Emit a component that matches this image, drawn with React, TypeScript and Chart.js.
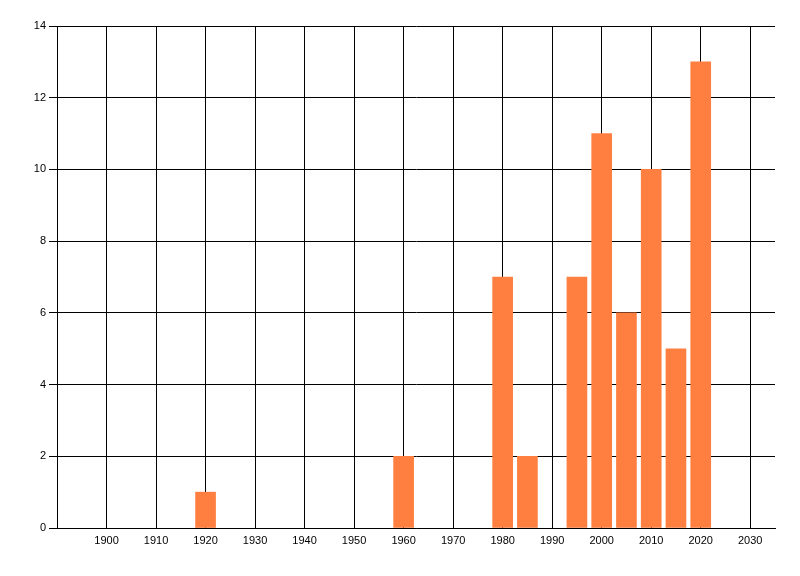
import React, { useEffect, useRef } from "react";
import { Chart, registerables } from "chart.js";

Chart.register(...registerables);

// values
const years = [1920, 1960, 1980, 1985, 1995, 2000, 2005, 2010, 2015, 2020];
const counts = [1, 2, 7, 2, 7, 11, 6, 10, 5, 13];
const xTicks = [1900, 1910, 1920, 1930, 1940, 1950, 1960, 1970, 1980, 1990, 2000, 2010, 2020, 2030];
const yTicks = [0, 2, 4, 6, 8, 10, 12, 14];

const App: React.FC = () => {
    const chartRef = useRef<HTMLCanvasElement>(null);
    const chartInstanceRef = useRef<Chart | null>(null);

    useEffect(() => {
        if (!chartRef.current) return;
        if (chartInstanceRef.current) {
            chartInstanceRef.current.destroy();
        }
        const font = { family: "'Liberation Sans', Arial, sans-serif", size: 11 };

        chartInstanceRef.current = new Chart(chartRef.current, {
            type: "bar",
            data: {
                datasets: [
                    {
                        data: years.map((y, i) => ({ x: y, y: counts[i] })),
                        backgroundColor: "#FF7F40",
                        borderWidth: 0,
                        barThickness: 20,
                    },
                ],
            },
            options: {
                animation: false,
                responsive: false,
                layout: { padding: { top: 26, right: 25, left: 0, bottom: 0 } },
                plugins: {
                    legend: { display: false },
                    tooltip: { enabled: false },
                },
                scales: {
                    x: {
                        type: "linear",
                        min: 1890,
                        max: 2035,
                        offset: false,
                        afterBuildTicks: (scale: any) => {
                            scale.ticks = xTicks.map((v) => ({ value: v }));
                        },
                        afterFit: (scale: any) => {
                            scale.height = 48;
                        },
                        grid: {
                            color: "#000",
                            lineWidth: 1,
                            drawTicks: false,
                            offset: false,
                        },
                        border: { color: "#000", width: 1 },
                        ticks: {
                            color: "#000",
                            font,
                            padding: 6,
                            maxRotation: 0,
                            autoSkip: false,
                            callback: (v: any) => String(v),
                        },
                    },
                    y: {
                        min: 0,
                        max: 14,
                        afterBuildTicks: (scale: any) => {
                            scale.ticks = yTicks.map((v) => ({ value: v }));
                        },
                        afterFit: (scale: any) => {
                            scale.width = 57;
                        },
                        grid: {
                            color: "#000",
                            lineWidth: 1,
                            tickLength: 8,
                        },
                        border: { color: "#000", width: 1 },
                        ticks: {
                            color: "#000",
                            font,
                            padding: 3,
                        },
                    },
                },
            },
        });

        return () => {
            if (chartInstanceRef.current) {
                chartInstanceRef.current.destroy();
                chartInstanceRef.current = null;
            }
        };
    }, []);

    return (
        <div style={{ position: "fixed", left: 0, top: 0, width: 800, height: 576, background: "#fff" }}>
            <canvas ref={chartRef} width={800} height={576} />
        </div>
    );
};

export default App;
